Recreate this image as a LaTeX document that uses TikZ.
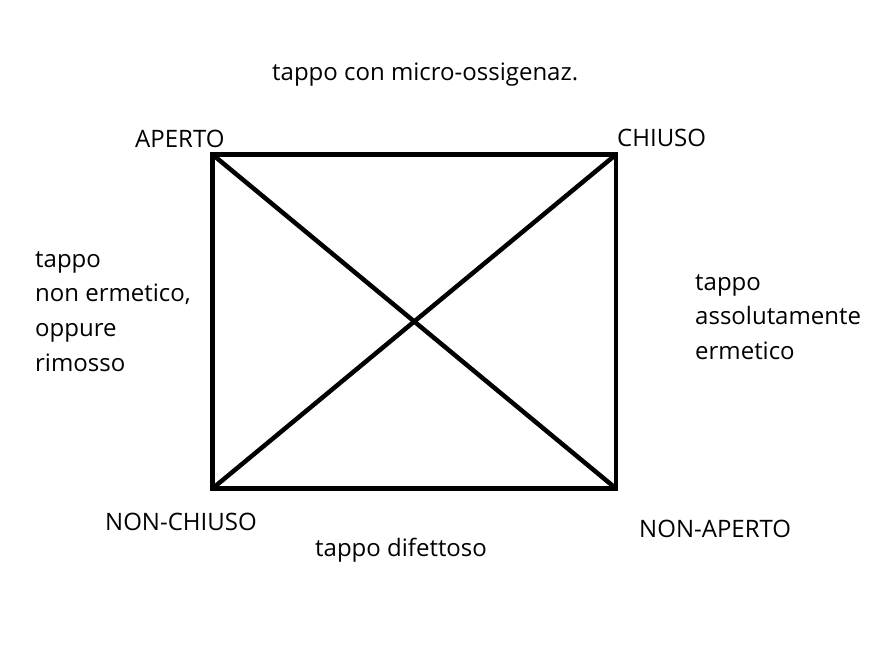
\documentclass[tikz,border=0pt]{standalone}
\usepackage{fontspec}
\setmainfont{Open Sans}
\usepackage{tikz}
\usetikzlibrary{calc}
\tikzset{>=latex}
\tikzset{lbl/.style={anchor=base west, inner sep=0pt, font=\fontsize{24}{34.7}\selectfont, align=left}}

\begin{document}
\begin{tikzpicture}[x=1pt, y=-1pt]
\useasboundingbox (0,0) rectangle (890,648);
% corners of the square
\coordinate (A) at (212.5,154.5);
\coordinate (C) at (616,154.5);
\coordinate (NA) at (616,488.5);
\coordinate (NC) at (212.5,488.5);
\draw[line width = 4.5pt, line join=miter] (A) -- (C) -- (NA) -- (NC) -- cycle;
\draw[line width = 4.5pt] (A) -- (NA);
\draw[line width = 4.5pt] (C) -- (NC);
% labels
\node[lbl] (aperto) at (135,147) {APERTO};
\node[lbl] (chiuso) at (617,146) {CHIUSO};
\node[lbl] (nonchiuso) at (105,530) {NON-CHIUSO};
\node[lbl] (nonaperto) at (639,537) {NON-APERTO};
\node[lbl] (micro) at (272,80) {tappo con micro-ossigenaz.};
\node[lbl] (difettoso) at (315,556) {tappo difettoso};
\node[lbl, anchor=north west] (nonerm) at (35,251) {tappo\\non ermetico,\\oppure\\rimosso};
\node[lbl, anchor=north west] (erm) at (695,274) {tappo\\assolutamente\\ermetico};
\end{tikzpicture}
\end{document}
